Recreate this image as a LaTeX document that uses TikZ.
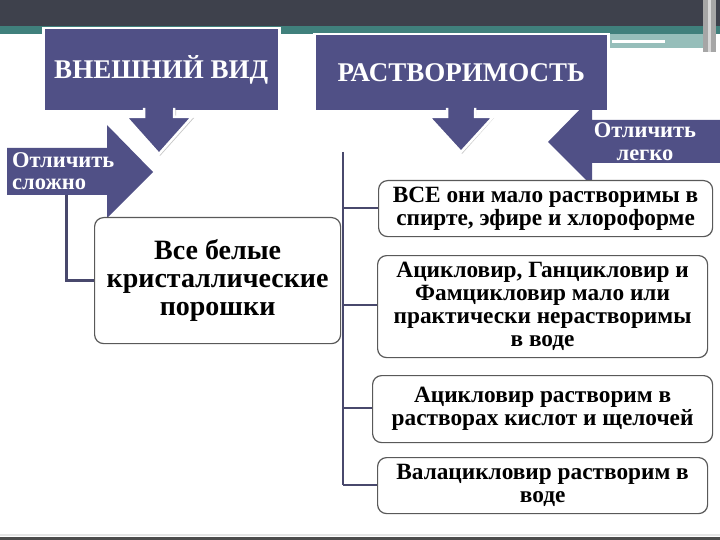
\documentclass[tikz,border=0pt]{standalone}
\usepackage{fontspec}
\setmainfont{Liberation Serif}
\usetikzlibrary{calc}
\definecolor{boxblue}{RGB}{80,80,134}
\definecolor{linec}{RGB}{72,72,108}
\definecolor{dband}{RGB}{62,65,76}
\definecolor{tband}{RGB}{64,128,124}
\definecolor{ltband}{RGB}{150,190,186}
\begin{document}
\begin{tikzpicture}[x=1pt,y=-1pt,
  headbox/.style={fill=boxblue,draw=white,line width=2.5pt,anchor=north west,inner sep=0pt,
    font=\bfseries\fontsize{27}{30}\selectfont,text=white},
  infobox/.style={fill=white,draw=black!65,line width=1.2pt,rounded corners=9pt,anchor=north west,
    inner sep=0pt,align=center,font=\bfseries\fontsize{23.3}{23}\selectfont,text=black},
  bigbox/.style={infobox,font=\bfseries\fontsize{28}{28}\selectfont},
  arrowlabel/.style={text=white,font=\bfseries\fontsize{22.5}{22}\selectfont,inner sep=0pt},
  shadowc/.style={fill=black!22},
  treeline/.style={draw=linec,line width=2pt},
  downarrow/.style={fill=boxblue,draw=white,line width=2.5pt,line join=miter}
]
\useasboundingbox (0,0) rectangle (720,540);
\fill[white] (0,0) rectangle (720,540);
% top band
\fill[dband] (0,0) rectangle (720,26);
\fill[tband] (0,26) rectangle (720,34);
\fill[ltband] (610,34) rectangle (705,48);
\fill[white] (612,40) rectangle (665,43);
\fill[black!35] (703,0) rectangle (716,52);
\fill[black!15] (708,0) rectangle (711,52);
% bottom line
\fill[black!10] (0,534) rectangle (720,536);
\fill[black!70] (0,537) rectangle (720,540);

% header boxes
\fill[shadowc] (44,29) rectangle (280,112);
\node[headbox,minimum width=236pt,minimum height=83pt] (vid) at (42,27) {ВНЕШНИЙ ВИД};
\fill[shadowc] (315,35) rectangle (609,112);
\node[headbox,minimum width=294pt,minimum height=77pt] (rast) at (313,33) {РАСТВОРИМОСТЬ};

% down arrows
\fill[shadowc] (145,110) -- (145,118) -- (127,118) -- (160,156) -- (194,118) -- (176,118) -- (176,110) -- cycle;
\draw[downarrow] (144,108) -- (144,117) -- (126,117) -- (159,154) -- (192,117) -- (174,117) -- (174,108);
\fill[boxblue] (145.5,104) rectangle (172.5,110);
\fill[shadowc] (448,110) -- (448,118) -- (430,118) -- (462,154) -- (494,118) -- (476,118) -- (476,110) -- cycle;
\draw[downarrow] (447,108) -- (447,117) -- (429,117) -- (461,152) -- (493,117) -- (475,117) -- (475,108);
\fill[boxblue] (448.5,104) rectangle (473.5,110);

% left arrow (Отличить сложно)
\fill[boxblue] (7,148) -- (107,148) -- (107,125) -- (153,172) -- (107,218) -- (107,195) -- (7,195) -- cycle;
\node[arrowlabel,anchor=base west] (lt1) at (12,168) {Отличить};
\node[arrowlabel,anchor=base west] (lt2) at (12,190) {сложно};
\coordinate (lstart) at (66,195);

% right arrow (Отличить легко)
\fill[boxblue] (720,120) -- (592,120) -- (592,97) -- (548,142) -- (592,186) -- (592,163) -- (720,163) -- cycle;
\node[arrowlabel,anchor=base] (rt1) at (645,138) {Отличить};
\node[arrowlabel,anchor=base] (rt2) at (645,161) {легко};

% appearance box
\node[bigbox,minimum width=246pt,minimum height=126pt] (white) at (94,217)
  {Все белые\\кристаллические\\порошки};
\draw[linec,line width=3pt] (lstart) |- (white.west |- 0,280);

% solubility boxes
\node[infobox,minimum width=334pt,minimum height=56pt] (b1) at (378,180)
  {ВСЕ они мало растворимы в\\спирте, эфире и хлороформе};
\node[infobox,minimum width=330pt,minimum height=102pt] (b2) at (377,255)
  {Ацикловир, Ганцикловир и\\Фамцикловир мало или\\практически нерастворимы\\в воде};
\node[infobox,minimum width=340pt,minimum height=67pt] (b3) at (372,375)
  {Ацикловир растворим в\\растворах кислот и щелочей};
\node[infobox,minimum width=330pt,minimum height=56pt] (b4) at (377,457)
  {Валацикловир растворим в\\воде};

% tree
\coordinate (ttop) at (343,152);
\draw[treeline] (ttop) -- (343,485);
\draw[treeline] (343,208) -- (b1.west |- 0,208);
\draw[treeline] (343,305) -- (b2.west |- 0,305);
\draw[treeline] (343,408) -- (b3.west |- 0,408);
\draw[treeline] (343,485) -- (b4.west |- 0,485);
\end{tikzpicture}
\end{document}
